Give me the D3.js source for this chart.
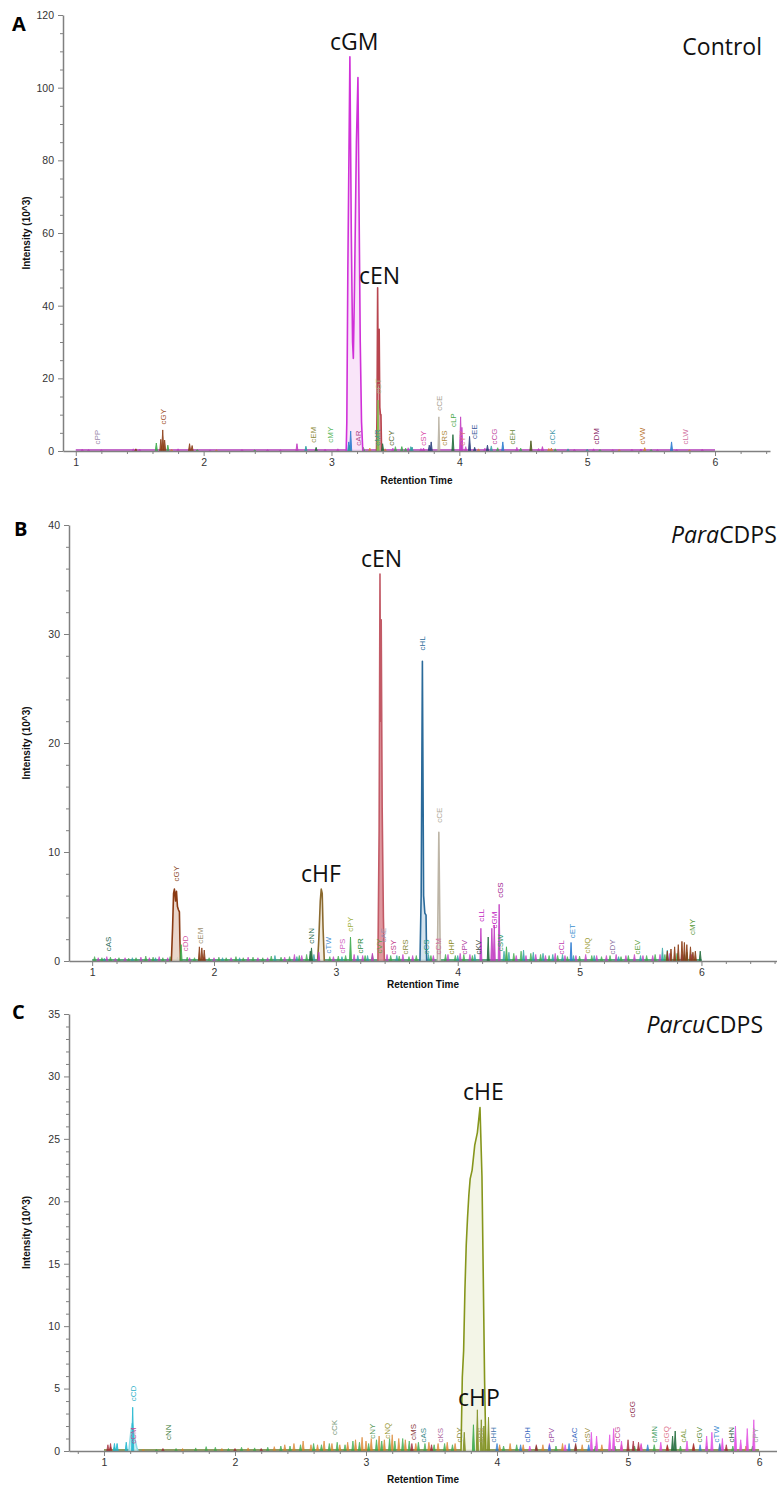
<!DOCTYPE html>
<html><head><meta charset="utf-8">
<script src="https://cdn.jsdelivr.net/npm/d3@7"></script>
<style>body{margin:0;background:#fff}svg{display:block}</style>
</head><body>
<svg id="c" width="777" height="1486"></svg>
<script>
// ================= DATA =================
// ---- Panel A : Control ----
const xTicks = [1,2,3,4,5,6];
const yTicksA = [0,20,40,60,80,100,120];
const traceA_cGM = [[3.115,0],[3.12,8],[3.128,50],[3.144,108.5],[3.155,60],[3.165,30],[3.171,25.5],[3.18,45],[3.195,85],[3.207,102.8],[3.215,70],[3.225,30],[3.235,8],[3.245,0]];
const traceA_cEN = [[3.352,0],[3.356,10],[3.361,44.9],[3.366,18],[3.370,30],[3.373,33.5],[3.378,12],[3.383,10],[3.387,10],[3.392,0]];
const peaksA = [ // [series, retention time, intensity]
 ["brn",1.665,3.2],["brn",1.68,5.8],["brn",1.695,3.0],["grn",1.63,2.2],["grn",1.72,1.6],["brn",1.89,2.0],["brn",1.91,1.5],["brn",1.47,0.6],
 ["mag",2.73,2.0],["teal",2.80,1.3],["dkg",2.88,1.0],["blu",3.15,5.5],["blu",3.135,2.5],["teal",3.14,1.5],
 ["lgr",3.364,14],["dkg",3.40,2],["mag",3.72,0.8],["nav",3.78,2.5],["nav",3.765,1.6],["gry",3.84,9.4],["teal",3.63,1.1],
 ["dkg",3.95,4.5],["grn",3.55,1.2],["mag",4.01,9.4],["mag",4.02,6.5],["nav",4.08,4.0],["nav",4.12,1.0],["nav",4.22,1.6],
 ["blu",4.34,2.5],["dko",4.56,2.8],["mag",4.65,1.2],["orn",4.72,0.8],["blu",5.66,2.5],["orn",5.45,0.9],["mag",5.42,0.5]
];
const noiseA = [
 ["mag",1.05,0.5],["mag",1.1,0.4],["mag",1.2,0.3],["mag",1.45,0.6],["mag",1.5,0.5],["mag",1.8,0.6],["mag",2.05,0.3],["mag",2.3,0.4],
 ["mag",2.5,0.4],["mag",2.6,0.3],["mag",2.95,0.5],["mag",3.05,0.6],["mag",3.48,0.8],["mag",3.6,0.9],["mag",3.7,0.7],["mag",4.05,1.2],
 ["mag",4.2,0.8],["mag",4.45,1.0],["mag",4.62,0.7],["mag",4.9,0.5],["mag",5.05,0.6],["mag",5.2,0.4],["mag",5.35,0.5],["mag",5.55,0.4],
 ["mag",5.7,0.4],["mag",5.9,0.5],["grn",1.95,0.4],["grn",2.4,0.3],["grn",3.25,1.0],["grn",3.5,1.2],["grn",3.58,0.8],["grn",4.3,0.9],
 ["grn",4.48,0.8],["grn",4.75,0.6],["grn",5.1,0.4],["grn",5.5,0.4],["orn",1.75,0.5],["orn",2.1,0.3],["orn",3.3,0.8],["orn",3.42,0.6],
 ["orn",4.15,0.6],["orn",4.7,0.7],["orn",5.25,0.4],["orn",5.8,0.3],["teal",3.62,1.2],["teal",4.25,1.4],["teal",4.85,0.6],["teal",5.0,0.5]
];
const labelsA = [ // [compound, retention time, intensity at label foot]
 ["cPP",1.17,1.5],["cGY",1.68,7],["cEM",2.86,2],["cMY",2.99,2],["cAR",3.21,1.2],["cMR",3.36,1.2],["cGT",3.365,15.5],["cCY",3.47,1.2],
 ["cSY",3.72,1.2],["cCE",3.84,10.8],["cRS",3.88,1.2],["cLP",3.95,6.3],["cYY",4.02,1.2],["cEE",4.12,3],["cCG",4.27,1.5],["cEH",4.41,1.5],
 ["cCK",4.73,1.5],["cDM",5.07,1.5],["cVW",5.43,1.5],["cLW",5.77,1.5]
];
const labelColorsA = {cPP:"#9a88aa",cGY:"#a0522d",cEM:"#8c8a3c",cMY:"#5cb85c",cAR:"#b04a8a",cMR:"#3f9a8f",cGT:"#a8b07a",cCY:"#5a6a30",
 cSY:"#d94aa8",cCE:"#a8a090",cRS:"#b08a40",cLP:"#4aa84a",cYY:"#e07a80",cEE:"#3a5a9a",cCG:"#c04aa0",cEH:"#6a8a3a",cCK:"#4a9aaa",
 cDM:"#8a2a6a",cVW:"#b8702a",cLW:"#d070a0"};

// ---- Panel B : ParaCDPS ----
const yTicksB = [0,10,20,30,40];
const traceB_cEN = [[3.345,0],[3.355,12],[3.362,35.5],[3.367,22],[3.372,31.3],[3.38,14],[3.39,4],[3.398,0]];
const traceB_cHL = [[3.69,0],[3.70,6],[3.71,27.5],[3.72,6],[3.73,4.4],[3.74,4.2],[3.745,0]];
const traceB_cCE = [[3.833,0],[3.845,11.8],[3.857,0]];
const traceB_cGY = [[1.65,0],[1.66,3],[1.668,6.2],[1.675,6.6],[1.685,5.5],[1.692,6.4],[1.70,5],[1.708,4.7],[1.716,4.5],[1.72,2],[1.725,0]];
const traceB_cHF = [[2.85,0],[2.86,2],[2.872,5.5],[2.88,6.6],[2.888,6.2],[2.895,3],[2.905,0]];
const peaksB = [
 ["dkg",2.80,1.2],["dkg",2.79,0.9],["grn",3.12,2.2],["grn",1.73,1.5],["brn",1.88,1.3],["brn",1.90,1.2],["brn",1.92,1.0],
 ["mag",4.19,3.0],["mag",4.28,3.0],["mag",4.30,3.3],["mag",4.34,5.2],["dkg",4.25,2.2],["grn",4.40,1.3],["blu",4.93,1.7],
 ["brn",5.72,0.9],["brn",5.75,1.1],["brn",5.78,1.3],["brn",5.81,1.5],["brn",5.84,1.8],["brn",5.86,1.7],["brn",5.88,1.5],
 ["brn",5.91,1.3],["brn",5.93,0.8],["brn",5.95,0.9],["dkg",5.99,0.9],["mag",2.86,0.8],["mag",3.30,0.7]
];
const noiseB = [
 ["grn",1.02,.4],["grn",1.08,.3],["grn",1.15,.35],["grn",1.22,.3],["grn",1.3,.25],["grn",1.36,.3],["grn",1.44,.45],["grn",1.5,.35],
 ["grn",1.58,.3],["grn",1.64,.4],["grn",1.78,.35],["grn",1.84,.3],["grn",1.96,.3],["grn",2.04,.35],["grn",2.1,.3],["grn",2.18,.4],
 ["grn",2.24,.3],["grn",2.32,.35],["grn",2.4,.3],["grn",2.47,.45],["grn",2.55,.35],["grn",2.62,.4],["grn",2.7,.5],["grn",2.76,.6],
 ["grn",2.95,.4],["grn",3.02,.45],["grn",3.08,.5],["grn",3.24,.5],["grn",3.3,.6],["grn",3.45,.5],["grn",3.52,.45],["grn",3.6,.4],
 ["grn",3.66,.5],["grn",3.78,.5],["grn",3.9,.6],["grn",3.98,.5],["grn",4.05,.6],["grn",4.12,.5],["grn",4.46,.7],["grn",4.52,.9],
 ["grn",4.6,.7],["grn",4.68,.6],["grn",4.75,.5],["grn",4.82,.5],["grn",4.9,.4],["grn",5.0,.45],["grn",5.1,.5],["grn",5.18,.4],
 ["grn",5.25,.5],["grn",5.34,.4],["grn",5.4,.5],["grn",5.55,.5],["grn",5.62,.6],["grn",5.7,.6],["grn",5.8,.7],["grn",5.88,.8],
 ["mag",1.05,.3],["mag",1.12,.4],["mag",1.19,.25],["mag",1.27,.3],["mag",1.4,.35],["mag",1.47,.3],["mag",1.55,.4],["mag",1.62,.3],
 ["mag",1.8,.3],["mag",1.92,.35],["mag",2.0,.3],["mag",2.14,.3],["mag",2.28,.35],["mag",2.36,.3],["mag",2.44,.3],["mag",2.58,.35],
 ["mag",2.66,.6],["mag",2.72,.5],["mag",2.98,.4],["mag",3.15,.6],["mag",3.22,.5],["mag",3.42,.6],["mag",3.55,.6],["mag",3.63,.5],
 ["mag",3.8,.5],["mag",3.92,.6],["mag",4.02,.7],["mag",4.1,.6],["mag",4.48,.5],["mag",4.56,.5],["mag",4.64,.6],["mag",4.72,.5],
 ["mag",4.8,.7],["mag",4.88,.5],["mag",4.97,.5],["mag",5.05,.6],["mag",5.14,.5],["mag",5.22,.5],["mag",5.3,.6],["mag",5.38,.5],
 ["mag",5.45,.6],["mag",5.52,.5],["mag",5.6,.5],["mag",5.66,.6],["mag",5.74,.7],["mag",5.84,.6],["mag",5.92,.6],
 ["teal",1.1,.25],["teal",1.33,.3],["teal",1.52,.3],["teal",1.7,.35],["teal",1.88,.3],["teal",2.07,.3],["teal",2.21,.3],["teal",2.5,.5],
 ["teal",2.68,.4],["teal",2.82,.6],["teal",3.05,.4],["teal",3.18,.5],["teal",3.26,.5],["teal",3.5,.5],["teal",3.76,.6],["teal",4.0,.5],
 ["teal",4.14,.6],["teal",4.38,.9],["teal",4.42,.8],["teal",4.54,1.0],["teal",4.62,.8],["teal",4.7,.7],["teal",4.78,.6],["teal",4.86,.6],
 ["teal",4.95,.5],["teal",5.12,.5],["teal",5.32,.4],["teal",5.5,.5],["teal",5.68,1.2],["teal",5.72,1.0],["teal",5.86,.6]
];
const labelsB = [
 ["cAS",1.13,0.8],["cGY",1.69,7.2],["cDD",1.76,0.8],["cEM",1.89,1.5],["cNN",2.80,1.5],["cTW",2.94,0.6],["cPS",3.05,0.6],["cPY",3.12,2.6],
 ["cPR",3.20,0.6],["cVY",3.355,0.6],["cAE",3.39,1.6],["cSY",3.47,0.5],["cRS",3.57,0.5],["cHL",3.71,28.4],["cCS",3.74,0.5],["cCE",3.85,12.6],
 ["cCM",3.84,0.5],["cHP",3.95,0.5],["cPV",4.05,0.5],["cKV",4.17,0.5],["cLL",4.19,3.5],["cGM",4.30,2.9],["cGS",4.35,5.7],["cSW",4.35,0.8],
 ["cCL",4.85,0.5],["cET",4.94,2.0],["cNQ",5.06,0.6],["cDY",5.27,0.5],["cEV",5.47,0.5],["cMY",5.92,2.3]
];
const labelColorsB = {cAS:"#2a6a5a",cGY:"#8a4a2a",cDD:"#d050a0",cEM:"#a09070",cNN:"#2a6a4a",cTW:"#4a90d0",cPS:"#d060c0",cPY:"#a0b040",
 cPR:"#2a8a3a",cVY:"#5aa040",cAE:"#9a90b0",cSY:"#c03a8a",cRS:"#8a8a3a",cHL:"#2a6a9a",cCS:"#2a9a7a",cCE:"#b0a898",cCM:"#d070a0",
 cHP:"#8a8a20",cPV:"#b03aa0",cKV:"#3a4a3a",cLL:"#c020c0",cGM:"#c020c0",cGS:"#a02090",cSW:"#2a9a6a",cCL:"#c040b0",cET:"#3a90d0",
 cNQ:"#a0a040",cDY:"#8a70a0",cEV:"#5aa040",cMY:"#5a9a3a"};

// ---- Panel C : ParcuCDPS ----
const yTicksC = [0,5,10,15,20,25,30,35];
const traceC_cHE = [[3.725,0],[3.735,5.9],[3.745,8],[3.755,12.9],[3.765,16.5],[3.775,18.7],[3.785,20.5],[3.795,21.8],[3.81,22.5],[3.83,24.5],[3.85,25.5],[3.87,27.5],[3.885,22],[3.895,14],[3.905,5.7],[3.915,0]];
const traceC_cCM = [[1.19,0],[1.205,1.5],[1.215,2.2],[1.23,1.2],[1.25,0.3],[1.26,0]];
const peaksC = [
 ["cyn",1.08,0.6],["cyn",1.10,0.6],["cyn",1.17,0.7],["cyn",1.219,3.5],["olv",3.85,3.3],["olv",3.88,2.5],["olv",3.90,2.0],["olv",3.935,2.7],
 ["olv",3.75,1.5],["grn",3.82,2.1],["dkg",5.36,1.6],["dkg",5.34,1.2]
];
const noiseC = [
 ["orn",1.05,.3],["orn",1.3,.15],["orn",1.6,.2],["orn",1.9,.2],["orn",2.1,.25],["orn",2.3,.35],["orn",2.38,.5],["orn",2.45,.6],["orn",2.52,.8],
 ["orn",2.58,.5],["orn",2.63,.5],["orn",2.68,.8],["orn",2.74,.6],["orn",2.8,.5],["orn",2.86,.7],["orn",2.92,.9],["orn",2.97,1.1],["orn",3.0,.8],
 ["orn",3.04,1.0],["orn",3.1,1.2],["orn",3.14,.9],["orn",3.2,1.3],["orn",3.25,1.0],["orn",3.3,.9],["orn",3.38,.6],["orn",3.48,.7],["orn",3.55,.6],
 ["orn",3.62,.7],["orn",3.68,.6],["orn",4.02,.5],["orn",4.1,.6],["orn",4.2,.5],["orn",4.35,.5],["orn",4.5,.6],["orn",4.65,.5],["orn",4.8,.5],
 ["orn",4.95,.5],["orn",5.1,.5],["orn",5.3,.4],["orn",5.5,.5],["orn",5.7,.5],["orn",5.9,.4],
 ["grn",1.08,.3],["grn",1.2,.2],["grn",1.4,.15],["grn",1.55,.2],["grn",1.7,.25],["grn",1.78,.35],["grn",1.85,.3],["grn",1.95,.2],["grn",2.05,.3],
 ["grn",2.15,.25],["grn",2.25,.3],["grn",2.35,.4],["grn",2.42,.4],["grn",2.5,.5],["grn",2.6,.6],["grn",2.66,.5],["grn",2.72,.6],["grn",2.78,.7],
 ["grn",2.84,.5],["grn",2.9,.8],["grn",2.95,.7],["grn",3.02,.6],["grn",3.08,.9],["grn",3.12,.8],["grn",3.18,1.0],["grn",3.22,.8],["grn",3.28,1.0],
 ["grn",3.33,.8],["grn",3.4,.7],["grn",3.45,.6],["grn",3.52,.5],["grn",3.6,.6],["grn",3.66,.5],["grn",4.05,.4],["grn",4.15,.5],["grn",4.3,.4],
 ["grn",4.45,.4],["grn",4.6,.5],["grn",4.75,.4],["grn",4.9,.4],["grn",5.05,.4],["grn",5.2,.5],["grn",5.4,.4],["grn",5.6,.4],["grn",5.8,.4],["grn",5.95,.4],
 ["pnk",4.72,1.5],["pnk",4.76,1.2],["pnk",4.86,1.3],["pnk",4.89,1.8],["pnk",4.95,0.8],["pnk",5.1,0.6],["pnk",5.25,0.7],["pnk",5.45,0.8],["pnk",5.6,1.2],
 ["pnk",5.64,1.5],["pnk",5.72,1.0],["pnk",5.82,2.0],["pnk",5.86,0.9],["pnk",5.91,1.8],["pnk",5.96,2.5],["pnk",4.4,.6],["pnk",4.52,.5],["pnk",4.25,.4],
 ["red",1.03,.5],["red",1.05,.6],["red",1.45,.2],["red",2.0,.2],["red",2.2,.2],["red",3.35,.6],["red",3.5,.5],["red",4.3,.5],["red",4.6,.6],
 ["red",5.0,.9],["red",5.04,.8],["red",5.08,.7],["red",5.3,.5],["red",5.5,.6],["red",5.75,.5],
 ["blu",3.9,.5],["blu",4.0,.6],["blu",4.18,.5],["blu",4.4,.5],["blu",4.55,.6],["blu",4.7,.5],["blu",5.15,.5],["blu",5.55,.5],["blu",5.7,.6]
];
const labelsC = [
 ["cCM",1.22,0.5],["cCD",1.22,3.9],["cNN",1.49,0.8],["cCK",2.76,1.2],["cNY",3.05,0.9],["cNQ",3.16,0.9],["cMS",3.36,0.8],["cAS",3.44,0.6],
 ["cKS",3.57,0.6],["cDY",3.71,0.6],["cRS",3.87,0.6],["cHH",3.97,0.6],["cDH",4.23,0.6],["cPV",4.41,0.6],["cAC",4.59,0.6],["cSV",4.69,0.6],
 ["cCG",4.92,0.6],["cGG",5.03,2.6],["cMN",5.20,0.6],["cGQ",5.29,0.6],["cAL",5.42,0.6],["cGV",5.54,0.6],["cTW",5.67,0.6],["cHN",5.79,0.6],["cPY",5.97,0.6]
];
const labelColorsC = {cCM:"#c04a90",cCD:"#2ab0c8",cNN:"#3a7a3a",cCK:"#7a9a7a",cNY:"#5a9a5a",cNQ:"#9a9a3a",cMS:"#8a3a3a",cAS:"#3a8a8a",
 cKS:"#b06aa0",cDY:"#8a8a3a",cRS:"#9a9a5a",cHH:"#4a7ab0",cDH:"#3a6ac0",cPV:"#9a4aa0",cAC:"#3a6ac0",cSV:"#9a8a3a",cCG:"#c04a90",
 cGG:"#8a2a4a",cMN:"#3a9a5a",cGQ:"#e07a90",cAL:"#7a9a3a",cGV:"#5a8a3a",cTW:"#3a8ad0",cHN:"#2a5a3a",cPY:"#a0a0a0"};

// series colours
const seriesColors = {mag:"#c23ac2",grn:"#3aaa4a",dkg:"#1f6b3a",teal:"#2aa0a0",blu:"#2a7ad0",nav:"#283c7a",brn:"#8a3a12",orn:"#d9822b",
 olv:"#7f8f20",gry:"#b8b0a0",cyn:"#20b8d0",red:"#a02030",pnk:"#e040e0",lgr:"#7cbf4a",dko:"#4a5a1a"};

// ================= DRAW =================
const svg = d3.select("#c");
const font = "'Liberation Sans', Arial, sans-serif";
const bigFont = "'Open Sans', 'Noto Sans', sans-serif";

const panels = [
 {letter:"A", lx:12, ly:31, left:63, right:770, top:15, bottom:451, xDom:[0.9,6.43], yMax:120, yTicks:yTicksA, yMinor:5,
  traces:[{d:traceA_cGM,c:"#d030d8",f:"#f8e2f8"},{d:traceA_cEN,c:"#b8454f",f:"#dc9aa0"}],
  peaks:peaksA, noise:noiseA, labels:labelsA, lc:labelColorsA, base:"#b03ab8",
  big:[["cGM",330,50],["cEN",359,284]], title:[["","Control"]], tx:762, ty:55, tanchor:"end", xt:484},
 {letter:"B", lx:14, ly:536, left:69, right:777, top:525, bottom:961, xDom:[0.81,6.62], yMax:40, yTicks:yTicksB, yMinor:2,
  traces:[{d:traceB_cGY,c:"#8a3a12",f:"#e8d2c4"},{d:traceB_cHF,c:"#8b6a2f",f:"#f0e8d8"},{d:traceB_cEN,c:"#c25a66",f:"#dc8c94"},
          {d:traceB_cHL,c:"#2a6a9a",f:"#cfe0ec"},{d:traceB_cCE,c:"#bdb5a6",f:"#f0ece6"}],
  peaks:peaksB, noise:noiseB, labels:labelsB, lc:labelColorsB, base:"#2a8a5a",
  big:[["cEN",361,567],["cHF",301,882]], title:[["it","Para"],["","CDPS"]], tx:671, ty:543, tanchor:"start", xt:988},
 {letter:"C", lx:12, ly:1019, left:69, right:777, top:1014, bottom:1451, xDom:[0.733,6.137], yMax:35, yTicks:yTicksC, yMinor:1,
  traces:[{d:traceC_cCM,c:"#8fdbe6",f:"#c8f0f4"},{d:traceC_cHE,c:"#86961c",f:"#f2f4e4"}],
  peaks:peaksC, noise:noiseC, labels:labelsC, lc:labelColorsC, base:"#6a7a2a",
  big:[["cHE",463,1100],["cHP",458,1406]], title:[["it","Parcu"],["","CDPS"]], tx:763, ty:1033, tanchor:"end", xt:1483}
];

panels.forEach(p => {
  const g = svg.append("g");
  const x = d3.scaleLinear().domain(p.xDom).range([p.left, p.right]);
  const y = d3.scaleLinear().domain([0, p.yMax]).range([p.bottom, p.top]);
  const spike = (rt, h, w) => `M${x(rt - w)},${y(0)}L${x(rt)},${y(h)}L${x(rt + w)},${y(0)}Z`;

  // baseline trace
  g.append("line").attr("x1", x(1.0)).attr("x2", x(6.0)).attr("y1", y(0) - 1).attr("y2", y(0) - 1)
    .attr("stroke", p.base).attr("stroke-width", 1.5);
  // noise spikes
  g.selectAll(".n").data(p.noise).join("path").attr("d", d => spike(d[1], d[2], 0.009))
    .attr("fill", d => seriesColors[d[0]]).attr("stroke", d => seriesColors[d[0]]).attr("stroke-width", 0.8).attr("opacity", 0.85);
  // big traces
  const area = d3.area().x(d => x(d[0])).y0(y(0)).y1(d => y(d[1]));
  const line = d3.line().x(d => x(d[0])).y(d => y(d[1]));
  p.traces.forEach(t => {
    g.append("path").attr("d", area(t.d)).attr("fill", t.f).attr("opacity", 0.9);
    g.append("path").attr("d", line(t.d)).attr("fill", "none").attr("stroke", t.c).attr("stroke-width", 1.6).attr("stroke-linejoin", "round");
  });
  // small peaks
  g.selectAll(".p").data(p.peaks).join("path").attr("d", d => spike(d[1], d[2], 0.008))
    .attr("fill", d => seriesColors[d[0]]).attr("stroke", d => seriesColors[d[0]]).attr("stroke-width", 1).attr("opacity", 0.9);
  // compound labels
  const lab = g.selectAll(".l").data(p.labels).join("g")
    .attr("transform", d => `translate(${x(d[1])},${y(d[2])}) rotate(-90)`);
  lab.append("text").text(d => d[0]).attr("dy", "0.35em").attr("x", 1)
    .attr("font-family", font).attr("font-size", 8).attr("fill", d => p.lc[d[0]]);

  // axes
  g.append("g").attr("transform", `translate(0,${y(0)})`)
    .call(d3.axisBottom(x).tickValues(xTicks).tickSize(5).tickSizeOuter(0).tickPadding(3).tickFormat(d3.format("d")));
  const minorX = d3.range(Math.ceil(p.xDom[0] * 5) / 5, p.xDom[1], 0.2).filter(v => Math.abs(v - Math.round(v)) > 1e-6);
  g.append("g").attr("transform", `translate(0,${y(0)})`)
    .call(d3.axisBottom(x).tickValues(minorX).tickSize(3).tickFormat("")).call(s => s.select(".domain").remove());
  g.append("g").attr("transform", `translate(${p.left},0)`)
    .call(d3.axisLeft(y).tickValues(p.yTicks).tickSize(5).tickSizeOuter(0).tickPadding(4));
  const minorY = d3.range(0, p.yMax + 1e-6, p.yMinor).filter(v => p.yTicks.indexOf(v) < 0);
  g.append("g").attr("transform", `translate(${p.left},0)`)
    .call(d3.axisLeft(y).tickValues(minorY).tickSize(3).tickFormat("")).call(s => s.select(".domain").remove());
  g.selectAll(".domain").attr("stroke", "#808080").attr("stroke-width", 1.5);
  g.selectAll(".tick line").attr("stroke", "#808080").attr("stroke-width", 1);
  g.selectAll(".tick text").attr("font-family", font).attr("font-size", 10.5).attr("fill", "#333");

  // axis titles
  g.append("text").attr("x", (p.left + p.right) / 2).attr("y", p.xt).attr("text-anchor", "middle")
    .attr("font-family", font).attr("font-weight", "bold").attr("font-size", 10).attr("fill", "#111").text("Retention Time");
  g.append("text").attr("transform", `translate(30,${(p.top + p.bottom) / 2}) rotate(-90)`).attr("text-anchor", "middle")
    .attr("font-family", font).attr("font-weight", "bold").attr("font-size", 10).attr("fill", "#111").text("Intensity (10^3)");

  // panel letter
  g.append("text").attr("x", p.lx).attr("y", p.ly).attr("font-family", bigFont).attr("font-weight", "bold")
    .attr("font-size", 20).attr("fill", "#000").text(p.letter);
  // big annotations
  p.big.forEach(b => g.append("text").attr("x", b[1]).attr("y", b[2]).attr("font-family", bigFont)
    .attr("font-size", 23).attr("fill", "#111").text(b[0]));
  // sample title
  const t = g.append("text").attr("x", p.tx).attr("y", p.ty).attr("text-anchor", p.tanchor)
    .attr("font-family", bigFont).attr("font-size", 23).attr("fill", "#111");
  p.title.forEach(s => t.append("tspan").attr("font-style", s[0] ? "italic" : "normal").text(s[1]));
});
</script>
</body></html>
